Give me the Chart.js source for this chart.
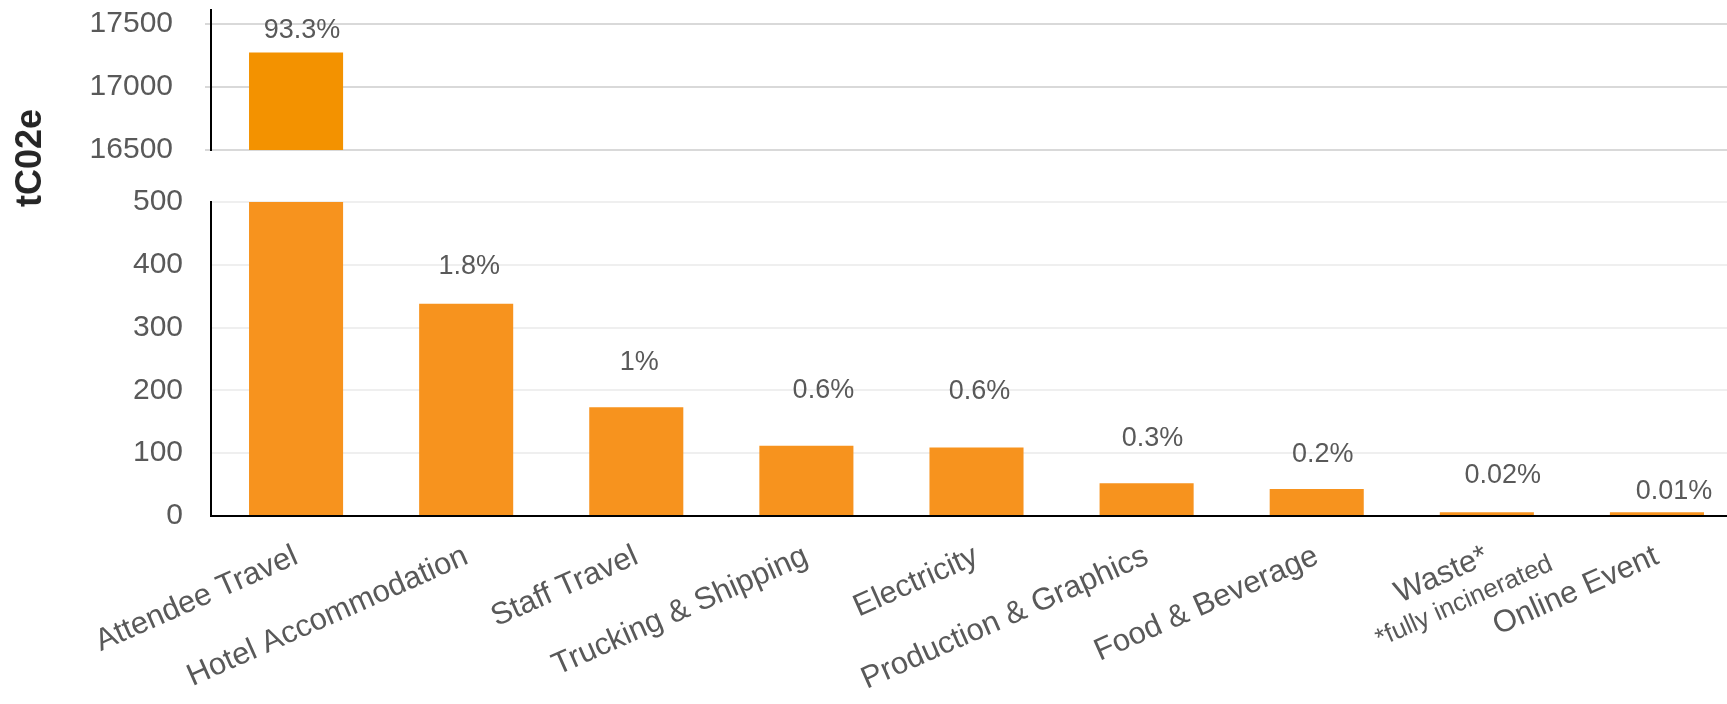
<!DOCTYPE html>
<html><head><meta charset="utf-8">
<script src="https://cdn.jsdelivr.net/npm/chart.js@4.4.1/dist/chart.umd.min.js"></script>
<style>
html,body{margin:0;padding:0;background:#fff;overflow:hidden;width:1727px;height:704px;}
#wrap{position:relative;width:1727px;height:704px;overflow:hidden;}
canvas{position:absolute;left:0;top:0;}
#ytitle{position:absolute;left:28.5px;top:158px;transform:translate(-50%,-50%) rotate(-90deg);font:bold 36px "Liberation Sans",Arial,sans-serif;color:#262626;white-space:nowrap;}
</style></head><body>
<div id="wrap">
<canvas id="upper" width="1742" height="704"></canvas>
<canvas id="lower" width="1742" height="704"></canvas>
<div id="ytitle">tC02e</div>
</div>
<script>
// ---- data ----
const categories = ['Attendee Travel','Hotel Accommodation','Staff Travel','Trucking & Shipping','Electricity','Production & Graphics','Food & Beverage','Waste*','Online Event'];
const categoryNotes = ['','','','','','','','*fully incinerated',''];
const emissions = [17274, 338, 173, 112, 109, 52, 43, 6, 6];
const shareLabels = ['93.3%','1.8%','1%','0.6%','0.6%','0.3%','0.2%','0.02%','0.01%'];
const upperTicks = [16500, 17000, 17500];
const lowerTicks = [0, 100, 200, 300, 400, 500];
const breakValue = 500;
const upperMin = 16500, upperMax = 17611;

// ---- label placement (style) ----
const labelRaise = [14, 30, 37, 48, 49, 37, 27, 29, 13];
const labelShift = [6, 3, 3, 17, 3, 6, 6, 16, 17];

const FONT = '"Liberation Sans", Arial, sans-serif';
const GREY = '#595959';
const AXIS_W = 211;
Chart.defaults.font.family = FONT;
Chart.defaults.color = GREY;

const valueLabels = (isUpper) => ({
  id: 'valueLabels' + (isUpper ? 'U' : 'L'),
  afterDatasetsDraw(chart) {
    const ctx = chart.ctx;
    const meta = chart.getDatasetMeta(0);
    ctx.save();
    ctx.font = '27px ' + FONT;
    ctx.fillStyle = GREY;
    ctx.textAlign = 'center';
    ctx.textBaseline = 'alphabetic';
    meta.data.forEach((bar, i) => {
      const v = emissions[i];
      if (isUpper ? v <= breakValue : v > breakValue) return;
      ctx.fillText(shareLabels[i], bar.x + labelShift[i], bar.y - labelRaise[i]);
    });
    ctx.restore();
  }
});

const notes = {
  id: 'notes',
  afterDraw(chart) {
    const xs = chart.scales.x;
    const rot = xs.labelRotation * Math.PI / 180;
    const lh = 31 * 1.2;
    const ctx = chart.ctx;
    categoryNotes.forEach((note, i) => {
      if (!note) return;
      const x = xs.getPixelForTick(i) + lh / 2 * Math.sin(rot);
      const y = xs.top + xs.options.ticks.padding;
      ctx.save();
      ctx.translate(x, y);
      ctx.rotate(-rot);
      ctx.font = '26px ' + FONT;
      ctx.fillStyle = GREY;
      ctx.textAlign = 'right';
      ctx.textBaseline = 'alphabetic';
      ctx.fillText(note, 42, 53);
      ctx.restore();
    });
  }
};

new Chart(document.getElementById('upper'), {
  type: 'bar',
  data: {
    labels: categories,
    datasets: [{
      data: emissions.map(v => v > breakValue ? v : null),
      backgroundColor: '#f39200',
      categoryPercentage: 1,
      barPercentage: 0.553
    }]
  },
  options: {
    responsive: false,
    animation: false,
    layout: { padding: { top: 10, bottom: 554, left: 0, right: 0 } },
    plugins: { legend: { display: false }, tooltip: { enabled: false } },
    scales: {
      x: { display: false },
      y: {
        min: upperMin, max: upperMax,
        afterBuildTicks: s => { s.ticks = upperTicks.map(v => ({ value: v })); },
        afterFit: s => { s.width = AXIS_W; s.paddingTop = 0; s.paddingBottom = 0; },
        grid: { color: '#d9d9d9', lineWidth: 2, drawTicks: true, tickLength: 6 },
        border: { display: true, color: '#000', width: 2 },
        ticks: { padding: 32, color: GREY, font: { size: 30 }, callback: v => String(v) }
      }
    }
  },
  plugins: [valueLabels(true)]
});

new Chart(document.getElementById('lower'), {
  type: 'bar',
  data: {
    labels: categories,
    datasets: [{
      data: emissions,
      backgroundColor: '#f7931e',
      categoryPercentage: 1,
      barPercentage: 0.553
    }]
  },
  options: {
    responsive: false,
    animation: false,
    layout: { padding: { top: 202, bottom: 0, left: 0, right: 0 } },
    plugins: { legend: { display: false }, tooltip: { enabled: false } },
    scales: {
      x: {
        afterFit: s => { s.height = 188; },
        grid: { display: false, drawTicks: false },
        border: { display: true, color: '#000', width: 2 },
        ticks: { color: GREY, font: { size: 31 }, minRotation: 24, maxRotation: 24, autoSkip: false, padding: 22 }
      },
      y: {
        min: 0, max: breakValue,
        afterBuildTicks: s => { s.ticks = lowerTicks.map(v => ({ value: v })); },
        afterFit: s => { s.width = AXIS_W; },
        grid: { color: c => (c.tick && c.tick.value === 0) ? '#d4d4d4' : '#efefef', lineWidth: 2, drawTicks: false },
        border: { display: true, color: '#000', width: 2 },
        ticks: { padding: 28, color: GREY, font: { size: 30 }, callback: v => String(v) }
      }
    }
  },
  plugins: [valueLabels(false), notes]
});
</script>
</body></html>
